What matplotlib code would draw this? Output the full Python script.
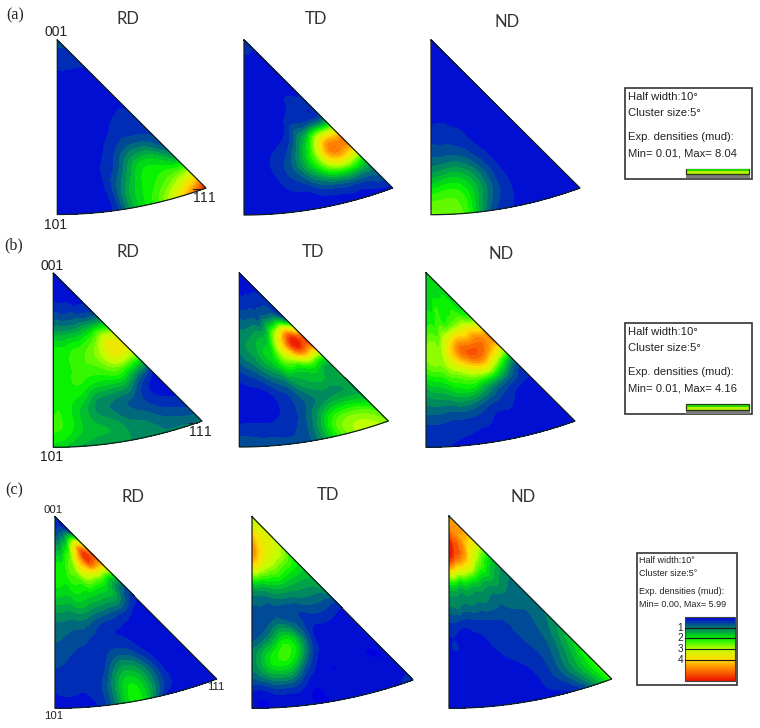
import matplotlib
matplotlib.use("Agg")
import matplotlib.pyplot as plt
import matplotlib.tri as mtri
import numpy as np
from matplotlib.colors import LinearSegmentedColormap
from matplotlib.patches import Rectangle

plt.rcParams["mathtext.fontset"] = "custom"
plt.rcParams["mathtext.rm"] = "Liberation Sans"

# density grids in mud, rows run from 001 out to the 101-111 arc,
# columns sweep from the 001-101 edge to the 001-111 edge
a_rd = [[.7]*8, [.5]*8, [.2]*8, [.13]*8,
        [.13, .13, .13, .13, .13, .15, .27, .27],
        [.13, .13, .13, .13, .2, .4, .47, .4],
        [.13, .13, .13, .2, .47, .94, 1.07, .67],
        [.13, .13, .13, .34, .94, 2.14, 2.41, 1.47],
        [.13, .13, .2, .4, 1.74, 2.68, 3.22, 4.02],
        [.07, .07, .13, .4, 2.01, 3.08, 5.09, 8.04]]
a_td = [[.4]*8, [.3]*8, [.25]*8, [.2]*8,
        [.1, .1, .1, .15, .2, .35, .5, .6],
        [.1, .1, .15, .2, .5, 1.1, 1.6, 2.0],
        [.1, .15, .3, .5, 1.3, 3.0, 6.2, 6.8],
        [.1, .15, .3, .7, 1.5, 3.0, 4.6, 3.4],
        [.1, .1, .15, .3, .5, .9, 1.1, 1.1],
        [.05, .05, .1, .1, .1, .15, .15, .15]]
a_nd = [[.25]*8, [.2]*8, [.15]*8, [.12]*8,
        [.25, .25, .2, .15, .1, .1, .1, .1],
        [.5, .5, .45, .35, .15, .1, .1, .1],
        [.95, .95, .95, .7, .35, .1, .1, .1],
        [1.7, 2.0, 2.0, 1.4, .6, .15, .1, .1],
        [2.9, 3.1, 2.8, 1.6, .6, .2, .1, .1],
        [3.6, 3.4, 2.9, 1.0, .35, .1, .05, .05]]

b_rd = [[.03]*8, [.07]*8,
        [.35, .31, .28, .28, .28, .21, .21, .21],
        [.83, .83, .83, .83, .9, .97, 1.04, 1.04],
        [1.39, 1.39, 1.46, 1.52, 1.66, 1.94, 2.5, 2.5],
        [1.39, 1.46, 1.52, 1.6, 1.66, 1.94, 2.08, 1.73],
        [1.46, 1.46, 1.46, 1.25, 1.18, 1.18, .69, .14],
        [1.46, 1.39, 1.11, .76, .62, .49, .21, .05],
        [1.52, 1.39, 1.11, .97, .76, .62, .42, .28],
        [1.25, 1.04, .9, .83, .83, .69, .69, .69]]
b_td = [[.07]*8, [.14]*8, [.35]*8,
        [.69, .69, .76, .76, .97, 1.39, 1.73, 1.18],
        [.69, .83, .97, 1.18, 1.66, 2.9, 4.16, 4.0],
        [.35, .49, .69, .97, 1.39, 1.66, 2.08, 1.73],
        [.07, .14, .21, .42, .69, .97, 1.04, 1.04],
        [.03, .03, .07, .21, .42, .69, .83, .9],
        [.21, .21, .21, .28, .55, 1.32, 1.66, 1.39],
        [.49, .42, .42, .35, .62, 1.52, 2.08, 1.8]]
b_nd = [[1.39]*8,
        [1.18, 1.18, 1.18, 1.18, 1.2, 1.25, 1.25, 1.25],
        [1.32, 1.32, 1.46, 1.46, 1.46, 1.46, 1.39, 1.39],
        [1.52, 1.59, 1.66, 1.73, 1.94, 2.08, 2.15, 2.08],
        [1.87, 1.94, 2.08, 2.9, 3.5, 3.5, 3.5, 3.5],
        [1.59, 1.73, 1.87, 2.22, 2.7, 3.0, 2.2, 1.25],
        [.97, 1.11, 1.25, 1.39, 1.32, .97, .55, .21],
        [.62, .62, .62, .62, .42, .28, .07, .03],
        [.28, .28, .24, .21, .14, .07, .03, .01],
        [.21, .17, .14, .07, .03, .01, .01, .01]]

c_rd = [[.1]*8,
        [.7, .8, .9, 1.0, 1.2, 1.4, 1.5, 1.5],
        [1.7, 1.8, 2.0, 2.4, 3.3, 4.5, 5.7, 5.5],
        [2.0, 2.0, 2.1, 2.3, 2.7, 3.0, 3.0, 3.0],
        [1.5, 1.5, 1.6, 1.7, 1.6, 1.5, 1.3, .6],
        [.9, .9, .9, .8, .6, .5, .3, .1],
        [.7, .6, .5, .4, .3, .2, .1, .05],
        [.5, .4, .3, .4, .9, .5, .05, .02],
        [.3, .3, .3, .9, 1.8, .9, .1, .02],
        [.05, .1, .2, 1.1, 2.0, .3, .1, .05]]
c_td = [[3.0]*8,
        [4.3, 4.1, 3.8, 3.7, 3.6, 3.5, 3.4, 3.2],
        [4.6, 4.2, 3.7, 3.4, 3.2, 3.0, 2.8, 2.4],
        [2.0, 2.0, 2.0, 2.0, 2.0, 1.8, 1.7, 1.6],
        [.8, .8, .8, .9, .9, 1.0, 1.0, 1.2],
        [.5, .6, .8, .7, .5, .4, .4, .2],
        [.8, 1.2, 1.9, 1.8, .6, .1, .05, .05],
        [1.0, 1.7, 2.0, 1.2, .2, .05, .02, .02],
        [.4, .5, .6, .2, .05, .02, .02, .05],
        [.05, .05, .1, .02, .02, .02, .1, .4]]
c_nd = [[4.5]*8,
        [5.4, 5.2, 5.0, 4.8, 4.6, 4.5, 4.4, 4.3],
        [5.99, 5.3, 5.0, 4.6, 4.0, 3.2, 2.7, 2.2],
        [2.4, 2.3, 2.2, 2.1, 1.9, 1.7, 1.4, 1.1],
        [1.1, 1.1, 1.05, 1.0, 1.0, .9, .9, .8],
        [.4, .4, .4, .45, .5, .6, .7, .9],
        [.2, .2, .2, .25, .35, .5, .7, 1.2],
        [.1, .1, .1, .15, .25, .4, .8, 1.8],
        [.05, .05, .05, .1, .15, .35, 1.0, 2.2],
        [.05, .05, .05, .05, .1, .2, .5, 2.3]]

panel_names = ["(a)", "(b)", "(c)"]
directions = ["RD", "TD", "ND"]
density_min = [0.01, 0.01, 0.00]
density_max = [8.04, 4.16, 5.99]
legend_ticks = [1, 2, 3, 4]

grids = [[a_rd, a_td, a_nd], [b_rd, b_td, b_nd], [c_rd, c_td, c_nd]]

# apex x, apex y, tip x, tip y, base y of every triangle
triangles = [[(57.3, 40, 206, 188, 214.5), (244, 40, 392.7, 188, 215), (431, 40, 580, 188, 214.7)],
             [(53.3, 273.3, 202, 421, 447.3), (239.3, 273, 388.3, 421, 447), (426, 272.7, 575, 421, 447.3)],
             [(55, 516.7, 216.7, 679, 708.3), (252, 516.7, 413, 680, 708.3), (449, 516, 611.7, 679, 708.3)]]
title_pos = [[(128.3, 19.5), (316.3, 19.5), (506.7, 22)],
             [(128, 252), (312.7, 252.3), (501, 254)],
             [(132.7, 497.3), (327.7, 495), (522.7, 496.7)]]
panel_pos = [(15, 15), (13.3, 245), (14, 490)]

colors = [(0, 0, .88), (0, .5, .4), (0, .95, 0), (.75, 1, 0), (1, .87, 0), (1, .47, 0), (.93, .08, 0)]
cmap = LinearSegmentedColormap.from_list("mud", colors)


def arc_xy(phi, tri):
    # stereographic 101-111 boundary fitted to the triangle corners
    ax0, ay0, tx, ty, by = tri
    t = np.tan(phi)
    n = np.sqrt(2 + t**2) + 1
    x0, x1 = 1 / (np.sqrt(2) + 1), 1 / (np.sqrt(3) + 1)
    x = ax0 + (tx - ax0) * (t / n) / x1
    y = ty + (1 / n - x1) * (by - ty) / (x0 - x1)
    return x, y


fig = plt.figure(figsize=(7.6, 7.28), dpi=100)
ax = fig.add_axes([0, 0, 1, 1])
ax.axis("off")

for i in range(3):
    levels = np.linspace(0, density_max[i], 26)
    for j in range(3):
        tri = triangles[i][j]
        z = np.array(grids[i][j])
        rows, cols = z.shape

        # refine in grid space, then bend the refined nodes into the triangle
        cc, rr = np.meshgrid(np.arange(cols, dtype=float), np.arange(rows, dtype=float))
        base = mtri.Triangulation(cc.ravel(), rr.ravel())
        refiner = mtri.UniformTriRefiner(base)
        fine, fine_z = refiner.refine_field(z.ravel(), subdiv=3)
        ex, ey = arc_xy(np.radians(fine.x / (cols - 1) * 45), tri)
        r = fine.y / (rows - 1)
        bent = mtri.Triangulation(tri[0] + r * (ex - tri[0]), tri[1] + r * (ey - tri[1]), fine.triangles)
        ax.tricontourf(bent, fine_z, levels=levels, cmap=cmap, extend="both", antialiased=False, zorder=2)

        edge = np.radians(np.linspace(0, 45, 60))
        fx, fy = arc_xy(edge, tri)
        ax.plot(np.r_[tri[0], fx, tri[0]], np.r_[tri[1], fy, tri[1]], color="#10201c", lw=0.9, zorder=3)

        tx, ty = title_pos[i][j]
        ax.text(tx, ty, directions[j], fontsize=12, family="Lato", color="#333333", ha="center", va="center")

    ax.text(*panel_pos[i], panel_names[i], fontsize=11.5, family="Liberation Serif", color="#222222",
            ha="center", va="center")

# pole labels beside the first triangle of each row
bar_111 = r"$\mathrm{\overline{1}11}$"
ax.text(55.6, 32, "001", fontsize=10, family="Liberation Sans", color="#222222", ha="center", va="center")
ax.text(55.6, 225, "101", fontsize=10, family="Liberation Sans", color="#222222", ha="center", va="center")
ax.text(204, 197.5, bar_111, fontsize=10, color="#222222", ha="center", va="center")
ax.text(51.7, 265.7, "001", fontsize=10, family="Liberation Sans", color="#222222", ha="center", va="center")
ax.text(51.7, 457, "101", fontsize=10, family="Liberation Sans", color="#222222", ha="center", va="center")
ax.text(200, 431, bar_111, fontsize=10, color="#222222", ha="center", va="center")
ax.text(53.3, 510, "001", fontsize=8.2, family="Liberation Sans", color="#222222", ha="center", va="center")
ax.text(53.3, 716, "101", fontsize=8.2, family="Liberation Sans", color="#222222", ha="center", va="center")
ax.text(216, 687, "111", fontsize=8.2, family="Liberation Sans", color="#222222", ha="center", va="center")


def legend_box(x0, x1, y0, y1, lines_y, fs, vmin, vmax):
    ax.add_patch(Rectangle((x0, y0), x1 - x0, y1 - y0, fc="white", ec="#333333", lw=1.2))
    texts = ["Half width:10\u00b0", "Cluster size:5\u00b0", "Exp. densities (mud):",
             f"Min= {vmin:.2f}, Max= {vmax:.2f}"]
    for yy, s in zip(lines_y, texts):
        ax.text(x0 + 2.2, yy, s, fontsize=fs, family="Liberation Sans", color="#222222", ha="left", va="center")


# rows (a) and (b) show the colour bar collapsed to a thin strip
for y0, y1, ys, vmin, vmax in [(88, 178.7, (97.3, 113.3, 137, 153.3), density_min[0], density_max[0]),
                               (323, 414.3, (332.3, 348.3, 372, 388.3), density_min[1], density_max[1])]:
    legend_box(625.3, 751.7, y0, y1, ys, 8.1, vmin, vmax)
    ax.add_patch(Rectangle((685.7, y1 - 4.4), 64, 3.6, fc="#7d7d7d", ec="none"))
    ax.add_patch(Rectangle((685.7, y1 - 10), 63.6, 5.6, fc="#b4f000", ec="#2a3a10", lw=0.9))
    ax.add_patch(Rectangle((686.5, y1 - 9.4), 62, 2.0, fc="#22d400", ec="none"))

legend_box(637, 736.7, 552.7, 684.7, (560.3, 573.3, 592, 604.7), 6.5, density_min[2], density_max[2])
bar_y0, bar_y1 = 617, 681
ax.imshow(np.linspace(0, 1, 64)[:, None], extent=(684.7, 734.7, bar_y1, bar_y0), cmap=cmap, aspect="auto", zorder=2)
ax.add_patch(Rectangle((684.7, bar_y0), 50, bar_y1 - bar_y0, fc="none", ec="#444444", lw=0.8, zorder=3))
for v in legend_ticks:
    yy = bar_y0 + (bar_y1 - bar_y0) * v / density_max[2]
    ax.plot([684.7, 734.7], [yy, yy], color="#1a1a1a", lw=0.8, zorder=3)
    ax.text(683, yy, str(v), fontsize=7.2, family="Liberation Sans", color="#222222", ha="right", va="center")

ax.set_xlim(0, 760)
ax.set_ylim(728, 0)
fig.savefig("out.png", dpi=100)
